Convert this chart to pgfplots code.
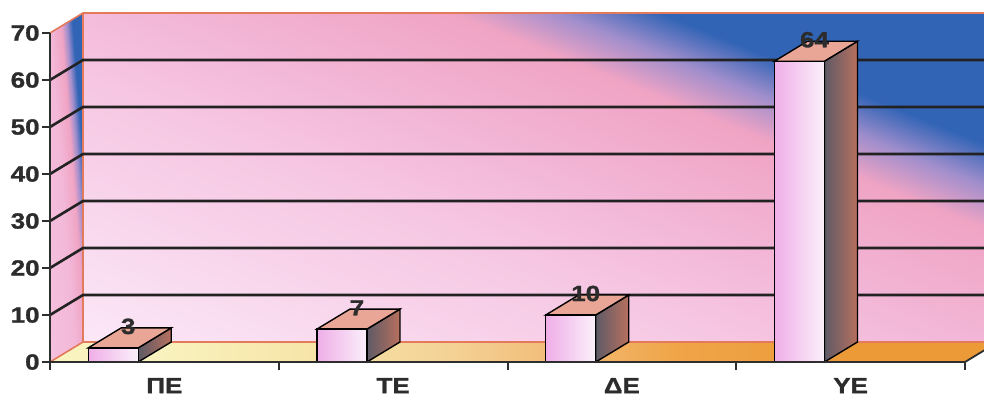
\documentclass[border=0pt]{standalone}
\usepackage{pgfplots}
\pgfplotsset{compat=1.18}
\usepackage{pgfplotstable}
\usepackage{fontspec}
\setmainfont{Liberation Sans}[FakeStretch=1.18, BoldFeatures={FakeBold=1.2}]

% palette
\definecolor{wlight}{HTML}{FBE8F8}
\definecolor{wmid}{HTML}{F6C6E2}
\definecolor{wpink}{HTML}{F3B8D8}
\definecolor{wpinkb}{HTML}{F0A4C4}
\definecolor{wmix}{HTML}{A08ECC}
\definecolor{wblue}{HTML}{3264B6}
\definecolor{fl1}{HTML}{F9F3C0}
\definecolor{fl2}{HTML}{F7E6AA}
\definecolor{fl3}{HTML}{F4D296}
\definecolor{fl4}{HTML}{F1B870}
\definecolor{fl5}{HTML}{F0A548}
\definecolor{fl6}{HTML}{EC9A38}
\definecolor{edge}{HTML}{E47A5C}
\definecolor{gridc}{HTML}{222222}
\definecolor{axisc}{HTML}{2E2E2E}
\definecolor{labelc}{HTML}{2C2C2C}
\definecolor{frontL}{HTML}{EFAEE8}
\definecolor{frontR}{HTML}{FBF0FA}
\definecolor{topc}{HTML}{E9A595}
\definecolor{sideL}{HTML}{5E5A66}
\definecolor{sideR}{HTML}{B8705E}

% back wall: light pink lower left, blue upper right
\pgfdeclarehorizontalshading{wallshade}{100bp}{%
  color(0bp)=(wlight); color(33bp)=(wlight); color(46bp)=(wmid);
  color(50bp)=(wpink); color(56.2bp)=(wpinkb); color(58.3bp)=(wmix);
  color(60.3bp)=(wblue); color(100bp)=(wblue)}
% side wall: pink with a blue strip along its back edge
\pgfdeclarehorizontalshading{sideshade}{100bp}{%
  color(0bp)=(wlight); color(44bp)=(wmid); color(49.5bp)=(wpink);
  color(51bp)=(wpinkb); color(51.7bp)=(wmix); color(52.4bp)=(wblue);
  color(100bp)=(wblue)}
% floor: pale yellow to orange
\pgfdeclarehorizontalshading{floorshade}{100bp}{%
  color(0bp)=(fl1); color(30bp)=(fl1); color(38bp)=(fl2); color(46bp)=(fl3);
  color(53bp)=(fl4); color(58bp)=(fl5); color(67bp)=(fl6); color(100bp)=(fl6)}

\pgfplotstableread{
left  value
0.167 3
1.167 7
2.167 10
3.167 64
}\bardata

% depth of the box and bar width, in axis units
\newcommand\ddx{0.14426}
\newcommand\ddy{4.2553}
\newcommand\bw{0.21858}
\newcommand\lblfont{\bfseries\fontsize{11}{13}\selectfont}

\pgfplotsset{
  sideface/.style={draw=black, line width=0.7pt, left color=sideL, right color=sideR},
  topface/.style={draw=black, line width=0.7pt, fill=topc},
  frontface/.style={ybar, bar width=\bw, bar shift=0pt, draw=black, line width=0.7pt,
    left color=frontL, right color=frontR,
    nodes near coords,
    every node near coord/.append style={inner sep=0pt, xshift=7.5pt, yshift=6.5pt,
      font=\lblfont, text=labelc}},
}

\begin{document}
\begin{tikzpicture}
\begin{axis}[
  x=114.375pt, y=2.35pt,
  xmin=0, xmax=4, ymin=0, ymax=70,
  clip=false, axis on top,
  axis x line*=bottom, axis y line*=left,
  axis line style={line width=1pt, draw=axisc},
  ytick={0,10,...,70},
  xtick={0,1,2,3,4}, xticklabels={},
  extra x ticks={0.5,1.5,2.5,3.5},
  extra x tick labels={ΠΕ,ΤΕ,ΔΕ,ΥΕ},
  extra x tick style={major tick length=0pt,
    xticklabel style={yshift=-4.5pt}},
  tick align=outside,
  major tick length=4pt,
  every tick/.style={line width=1pt, draw=axisc},
  /pgf/number format/assume math mode=true,
  tick label style={font=\lblfont, text=labelc},
  yticklabel style={inner sep=1pt},
]

% back wall (shaded through a square so the gradient keeps its angle)
\begin{scope}
  \clip (axis cs:\ddx,\ddy) rectangle (axis cs:4+\ddx,70+\ddy);
  \shade[shading=wallshade, shading angle=68]
    (axis cs:0.04372,-62.872) rectangle (axis cs:4.24044,141.383);
\end{scope}
% left side wall
\begin{scope}
  \clip (axis cs:0,0) -- (axis cs:\ddx,\ddy) -- (axis cs:\ddx,70+\ddy) -- (axis cs:0,70) -- cycle;
  \shade[shading=sideshade, shading angle=4.5]
    (axis cs:-0.80437,-5.4255) rectangle (axis cs:0.94426,79.681);
\end{scope}
% floor
\shade[shading=floorshade]
  (axis cs:0,0) -- (axis cs:4,0) -- (axis cs:4+\ddx,\ddy) -- (axis cs:\ddx,\ddy) -- cycle;

% box edges
\draw[edge, line width=0.8pt]
  (axis cs:0,70) -- (axis cs:\ddx,70+\ddy) -- (axis cs:4+\ddx,70+\ddy);
\draw[edge, line width=0.8pt]
  (axis cs:\ddx,70+\ddy) -- (axis cs:\ddx,\ddy) -- (axis cs:4+\ddx,\ddy);
\draw[edge, line width=0.8pt] (axis cs:0,0) -- (axis cs:\ddx,\ddy);
\draw[axisc, line width=0.9pt] (axis cs:4,0) -- (axis cs:4+\ddx,\ddy);

% grid lines bent over the side wall onto the back wall
\pgfplotsinvokeforeach{10,20,...,60}{
  \draw[gridc, line width=1.3pt]
    (axis cs:0,#1) -- (axis cs:\ddx,#1+\ddy) -- (axis cs:4+\ddx,#1+\ddy);
}

% bars: side face, top face, then the front face carrying the value
\pgfplotsinvokeforeach{0,1,2,3}{
  \pgfplotstablegetelem{#1}{left}\of\bardata
  \pgfmathsetmacro\xa{\pgfplotsretval}
  \pgfplotstablegetelem{#1}{value}\of\bardata
  \pgfmathsetmacro\yv{\pgfplotsretval}
  \pgfmathsetmacro\xb{\xa+\bw}
  \pgfmathsetmacro\xc{\xb+\ddx}
  \pgfmathsetmacro\xd{\xa+\ddx}
  \pgfmathsetmacro\xm{\xa+0.5*\bw}
  \pgfmathsetmacro\yt{\yv+\ddy}
  \edef\faces{%
    \noexpand\addplot[sideface]
      coordinates {(\xb,0) (\xc,\ddy) (\xc,\yt) (\xb,\yv)} -- cycle;
    \noexpand\addplot[topface]
      coordinates {(\xa,\yv) (\xb,\yv) (\xc,\yt) (\xd,\yt)} -- cycle;
    \noexpand\addplot[frontface] coordinates {(\xm,\yv)};}
  \faces
}

\coordinate (bbA) at (axis cs:-0.21858,-7.6596);
\coordinate (bbB) at (axis cs:4.08306,77.0213);
\end{axis}
\pgfresetboundingbox
\useasboundingbox (bbA) rectangle (bbB);
\end{tikzpicture}
\end{document}
